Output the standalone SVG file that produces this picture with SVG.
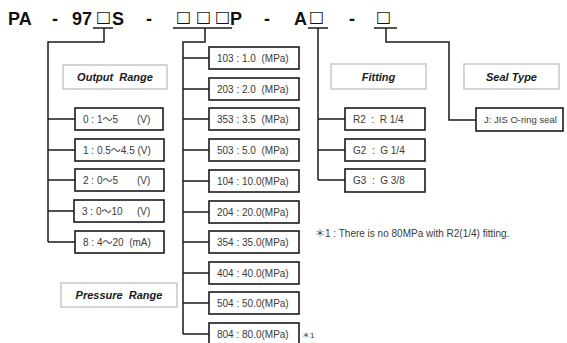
<svg xmlns="http://www.w3.org/2000/svg" width="567" height="343" viewBox="0 0 567 343" xml:space="preserve">
<style>
.ln{fill:none;stroke:#1a1a1a;stroke-width:1.5}
.bx{fill:#fff;stroke:#1a1a1a;stroke-width:1.6}
.lb{fill:#fff;stroke:#c8c8c8;stroke-width:1.5}
.t{font-family:"Liberation Sans","DejaVu Sans","Noto Sans CJK JP",sans-serif;font-size:10px;fill:#3a3a3a;white-space:pre}
.h{font-family:"Liberation Sans",Arial,sans-serif;font-size:11px;font-weight:bold;font-style:italic;fill:#1a1a1a;text-anchor:middle;white-space:pre}
.ti{font-family:"Liberation Sans","DejaVu Sans",sans-serif;font-size:18px;font-weight:bold;fill:#111}
.sq{font-family:"DejaVu Sans",sans-serif;font-weight:normal;font-size:16px}
</style>
<g id="title"><text class="ti" y="25"><tspan x="8">PA</tspan><tspan x="52">-</tspan><tspan x="72">97</tspan><tspan class="sq" x="96" y="22">□</tspan><tspan x="112" y="25">S</tspan><tspan x="146">-</tspan><tspan class="sq" x="176" y="22">□</tspan><tspan class="sq" x="196" y="22">□</tspan><tspan class="sq" x="215" y="22">□</tspan><tspan x="230" y="25">P</tspan><tspan x="264">-</tspan><tspan x="294">A</tspan><tspan class="sq" x="309" y="22">□</tspan><tspan x="349" y="25">-</tspan><tspan class="sq" x="376" y="22">□</tspan></text></g>
<g id="connectors">
<path class="ln" d="M93 28H113M173 28H232M308 28H328M374 28H397"/>
<path class="ln" d="M104 28V42H48V242"/>
<path class="ln" d="M48 119H75M48 150H75M48 180H75M48 211H75M48 242H75"/>
<path class="ln" d="M205 28V42H183V334"/>
<path class="ln" d="M183 58H209M183 89H209M183 119H209M183 150H209M183 181H209M183 212H209M183 242H209M183 273H209M183 303H209M183 334H209"/>
<path class="ln" d="M318 28V180M318 119H345M318 150H345M318 180H345"/>
<path class="ln" d="M386 28V42H449V120H476"/>
</g>
<g id="output-range-label"><rect class="lb" x="63" y="65" width="104" height="24"/><text class="h" x="115" y="81">Output  Range</text></g>
<g id="out-0"><rect class="bx" x="75" y="108" width="88" height="22"/><text class="t" y="122.5"><tspan x="83">0 : 1～5</tspan><tspan x="137">(V)</tspan></text></g>
<g id="out-1"><rect class="bx" x="75" y="139" width="89" height="22"/><text class="t" x="83" y="153.5">1 : 0.5～4.5 (V)</text></g>
<g id="out-2"><rect class="bx" x="75" y="169" width="89" height="22"/><text class="t" y="183.5"><tspan x="83">2 : 0～5</tspan><tspan x="137">(V)</tspan></text></g>
<g id="out-3"><rect class="bx" x="74" y="200" width="90" height="22"/><text class="t" y="214.5"><tspan x="82">3 : 0～10</tspan><tspan x="137">(V)</tspan></text></g>
<g id="out-8"><rect class="bx" x="75" y="231" width="89" height="22"/><text class="t" x="83" y="245.5">8 : 4～20  (mA)</text></g>
<g id="pressure-range-label"><rect class="lb" x="61" y="283" width="116" height="24"/><text class="h" x="119" y="299">Pressure  Range</text></g>
<g id="p-103"><rect class="bx" x="209" y="47" width="90" height="22"/><text class="t" x="217" y="61.5">103 : 1.0  (MPa)</text></g>
<g id="p-203"><rect class="bx" x="209" y="78" width="90" height="22"/><text class="t" x="217" y="92.5">203 : 2.0  (MPa)</text></g>
<g id="p-353"><rect class="bx" x="209" y="108" width="90" height="22"/><text class="t" x="217" y="122.5">353 : 3.5  (MPa)</text></g>
<g id="p-503"><rect class="bx" x="209" y="139" width="90" height="22"/><text class="t" x="217" y="153.5">503 : 5.0  (MPa)</text></g>
<g id="p-104"><rect class="bx" x="209" y="170" width="90" height="22"/><text class="t" x="217" y="184.5">104 : 10.0(MPa)</text></g>
<g id="p-204"><rect class="bx" x="209" y="201" width="90" height="22"/><text class="t" x="217" y="215.5">204 : 20.0(MPa)</text></g>
<g id="p-354"><rect class="bx" x="209" y="231" width="90" height="22"/><text class="t" x="217" y="245.5">354 : 35.0(MPa)</text></g>
<g id="p-404"><rect class="bx" x="209" y="262" width="90" height="22"/><text class="t" x="217" y="276.5">404 : 40.0(MPa)</text></g>
<g id="p-504"><rect class="bx" x="209" y="292" width="90" height="22"/><text class="t" x="217" y="306.5">504 : 50.0(MPa)</text></g>
<g id="p-804"><rect class="bx" x="209" y="323" width="90" height="22"/><text class="t" x="217" y="337.5">804 : 80.0(MPa)</text></g>
<g id="note-mark"><text class="t" x="302" y="338" style="font-size:8px">＊1</text></g>
<g id="fitting-label"><rect class="lb" x="331" y="64" width="95" height="25"/><text class="h" x="378.5" y="80.5">Fitting</text></g>
<g id="f-r2"><rect class="bx" x="345" y="108" width="80" height="22"/><text class="t" x="353" y="122.5">R2  :  R 1/4</text></g>
<g id="f-g2"><rect class="bx" x="345" y="139" width="80" height="22"/><text class="t" x="353" y="153.5">G2  :  G 1/4</text></g>
<g id="f-g3"><rect class="bx" x="345" y="169" width="80" height="23"/><text class="t" x="353" y="184">G3  :  G 3/8</text></g>
<g id="seal-label"><rect class="lb" x="464" y="64" width="95" height="25"/><text class="h" x="511.5" y="80.5">Seal Type</text></g>
<g id="s-j"><rect class="bx" x="476" y="108" width="87" height="23"/><text class="t" x="484" y="123" style="font-size:9.5px">J: JIS O-ring seal</text></g>
<g id="footnote"><text class="t" x="315" y="237">＊1 : There is no 80MPa with R2(1/4) fitting.</text></g>
</svg>
